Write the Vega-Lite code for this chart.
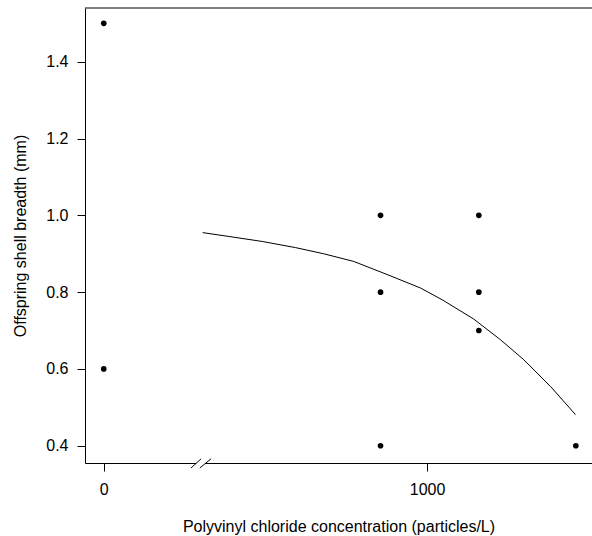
{
  "$schema": "https://vega.github.io/schema/vega-lite/v6.json",
  "autosize": {"type": "none"},
  "padding": {"left": 85, "top": 8, "right": 0, "bottom": 73},
  "width": 507,
  "height": 455,
  "background": "white",
  "config": {
    "view": {"stroke": null},
    "font": "Liberation Sans",
    "axis": {
      "domainColor": "black",
      "tickColor": "black",
      "labelColor": "black",
      "titleColor": "black",
      "labelFont": "Liberation Sans",
      "titleFont": "Liberation Sans",
      "titleFontWeight": "normal",
      "labelFontSize": 16,
      "titleFontSize": 16,
      "tickSize": 8,
      "grid": false,
      "domainWidth": 1,
      "tickWidth": 1
    }
  },
  "datasets": {
    "obs": [
      {"conc": 0, "breadth": 1.5},
      {"conc": 0, "breadth": 0.6},
      {"conc": 856, "breadth": 1.0},
      {"conc": 856, "breadth": 0.8},
      {"conc": 856, "breadth": 0.4},
      {"conc": 1160, "breadth": 1.0},
      {"conc": 1160, "breadth": 0.8},
      {"conc": 1160, "breadth": 0.7},
      {"conc": 1460, "breadth": 0.4}
    ],
    "fit": [
      {"conc": 306, "breadth": 0.955},
      {"conc": 387, "breadth": 0.945},
      {"conc": 490, "breadth": 0.932},
      {"conc": 593, "breadth": 0.916},
      {"conc": 680, "breadth": 0.900},
      {"conc": 773, "breadth": 0.880},
      {"conc": 876, "breadth": 0.846},
      {"conc": 979, "breadth": 0.811},
      {"conc": 1047, "breadth": 0.780},
      {"conc": 1144, "breadth": 0.730},
      {"conc": 1227, "breadth": 0.676},
      {"conc": 1299, "breadth": 0.624},
      {"conc": 1382, "breadth": 0.554},
      {"conc": 1459, "breadth": 0.481}
    ]
  },
  "layer": [
    {
      "data": {"name": "obs"},
      "mark": {"type": "point", "filled": true, "color": "black", "opacity": 1, "size": 32},
      "encoding": {
        "x": {
          "field": "conc", "type": "quantitative",
          "scale": {"domain": [-58, 1510], "nice": false, "zero": false},
          "axis": {
            "values": [0, 1000],
            "format": "d",
            "title": "Polyvinyl chloride concentration (particles/L)",
            "labelPadding": 10,
            "titlePadding": 21
          }
        },
        "y": {
          "field": "breadth", "type": "quantitative",
          "scale": {"domain": [0.355, 1.54], "nice": false, "zero": false},
          "axis": {
            "values": [0.4, 0.6, 0.8, 1.0, 1.2, 1.4],
            "format": ".1f",
            "title": "Offspring shell breadth (mm)",
            "labelPadding": 9,
            "titlePadding": 17
          }
        }
      }
    },
    {
      "data": {"name": "fit"},
      "mark": {"type": "line", "color": "black", "strokeWidth": 1},
      "encoding": {
        "x": {"field": "conc", "type": "quantitative"},
        "y": {"field": "breadth", "type": "quantitative"}
      }
    },
    {
      "data": {"values": [{}]},
      "mark": {"type": "rule", "color": "black", "strokeWidth": 1},
      "encoding": {
        "x": {"datum": -58},
        "x2": {"datum": 1510},
        "y": {"datum": 1.54}
      }
    },
    {
      "data": {"values": [{}]},
      "mark": {"type": "rule", "color": "white", "strokeWidth": 3},
      "encoding": {
        "x": {"datum": 286},
        "x2": {"datum": 313},
        "y": {"datum": 0.355}
      }
    },
    {
      "data": {"values": [{}]},
      "mark": {"type": "rule", "color": "black", "strokeWidth": 1},
      "encoding": {
        "x": {"datum": 270},
        "x2": {"datum": 301},
        "y": {"datum": 0.342},
        "y2": {"datum": 0.366}
      }
    },
    {
      "data": {"values": [{}]},
      "mark": {"type": "rule", "color": "black", "strokeWidth": 1},
      "encoding": {
        "x": {"datum": 297},
        "x2": {"datum": 332},
        "y": {"datum": 0.342},
        "y2": {"datum": 0.366}
      }
    }
  ]
}
